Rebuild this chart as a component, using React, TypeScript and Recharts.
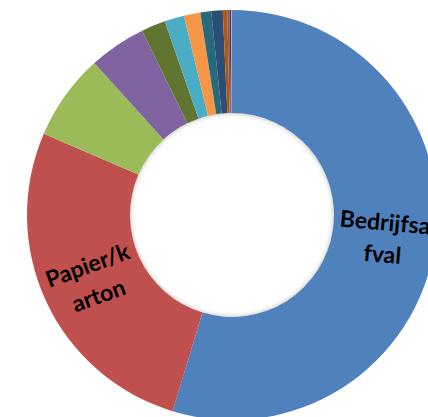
import { PieChart, Pie, Cell } from "recharts";

const categories = [
  "Bedrijfsafval",
  "Papier/karton",
  "Groenafval",
  "Hout",
  "Glas",
  "Kunststof",
  "Metaal",
  "Puin",
  "Textiel",
  "Elektronica",
  "Gevaarlijk afval",
  "Banden",
  "Overig",
];

const shares = [54.68, 26.8, 6.8, 4.5, 1.9, 1.55, 1.3, 0.85, 0.9, 0.35, 0.17, 0.14, 0.06];

const colors = [
  "#4F81BD",
  "#C0504D",
  "#9BBB59",
  "#8064A2",
  "#5F7530",
  "#4BACC6",
  "#F79646",
  "#276A7C",
  "#2C4D75",
  "#B65708",
  "#6B5E7A",
  "#772C2A",
  "#8FAFD8",
];

// label lines per slice (only the two big ones get a label)
const labelLines: Record<string, string[]> = {
  Bedrijfsafval: ["Bedrijfsa", "fval"],
  "Papier/karton": ["Papier/k", "arton"],
};
const labelTilt: Record<string, number> = {
  Bedrijfsafval: 5,
  "Papier/karton": -20,
};

const data = categories.map((name, i) => ({ name, value: shares[i] }));

const RAD = Math.PI / 180;
const CX = 232;
const CY = 215;
const INNER = 102;
const OUTER = 205;

const renderLabel = (props: any) => {
  const { cx, cy, midAngle, innerRadius, outerRadius, name } = props;
  const lines = labelLines[name];
  if (!lines) return null;
  const r = (innerRadius + outerRadius) / 2;
  const x = cx + r * Math.cos(-midAngle * RAD);
  const y = cy + r * Math.sin(-midAngle * RAD);
  const gap = 16;
  return (
    <g transform={`rotate(${labelTilt[name]}, ${x}, ${y})`}>
      {lines.map((t, i) => (
        <text
          key={i}
          x={x}
          y={y + (i === 0 ? -gap : gap)}
          textAnchor="middle"
          dominantBaseline="central"
          fill="#000"
          fontFamily="Lato, 'Open Sans', sans-serif"
          fontWeight="bold"
          fontSize={23}
        >
          {t}
        </text>
      ))}
    </g>
  );
};

export default function App() {
  return (
    <div style={{ position: "absolute", left: 0, top: 0, width: 428, height: 417, background: "#fff", overflow: "hidden" }}>
      <PieChart width={428} height={417} margin={{ top: 0, right: 0, bottom: 0, left: 0 }}>
        <Pie
          data={data}
          dataKey="value"
          nameKey="name"
          cx={CX}
          cy={CY}
          innerRadius={INNER}
          outerRadius={OUTER}
          startAngle={90}
          endAngle={-270}
          stroke="none"
          label={renderLabel}
          labelLine={false}
          isAnimationActive={false}
        >
          {data.map((d, i) => (
            <Cell key={d.name} fill={colors[i]} />
          ))}
        </Pie>
      </PieChart>
      {/* soft shadow round the hole, like the office render */}
      <div
        style={{
          position: "absolute",
          left: CX - INNER,
          top: CY - INNER,
          width: INNER * 2,
          height: INNER * 2,
          borderRadius: "50%",
          boxShadow: "inset 0 0 5px rgba(0,0,0,0.3)",
          pointerEvents: "none",
        }}
      />
    </div>
  );
}
